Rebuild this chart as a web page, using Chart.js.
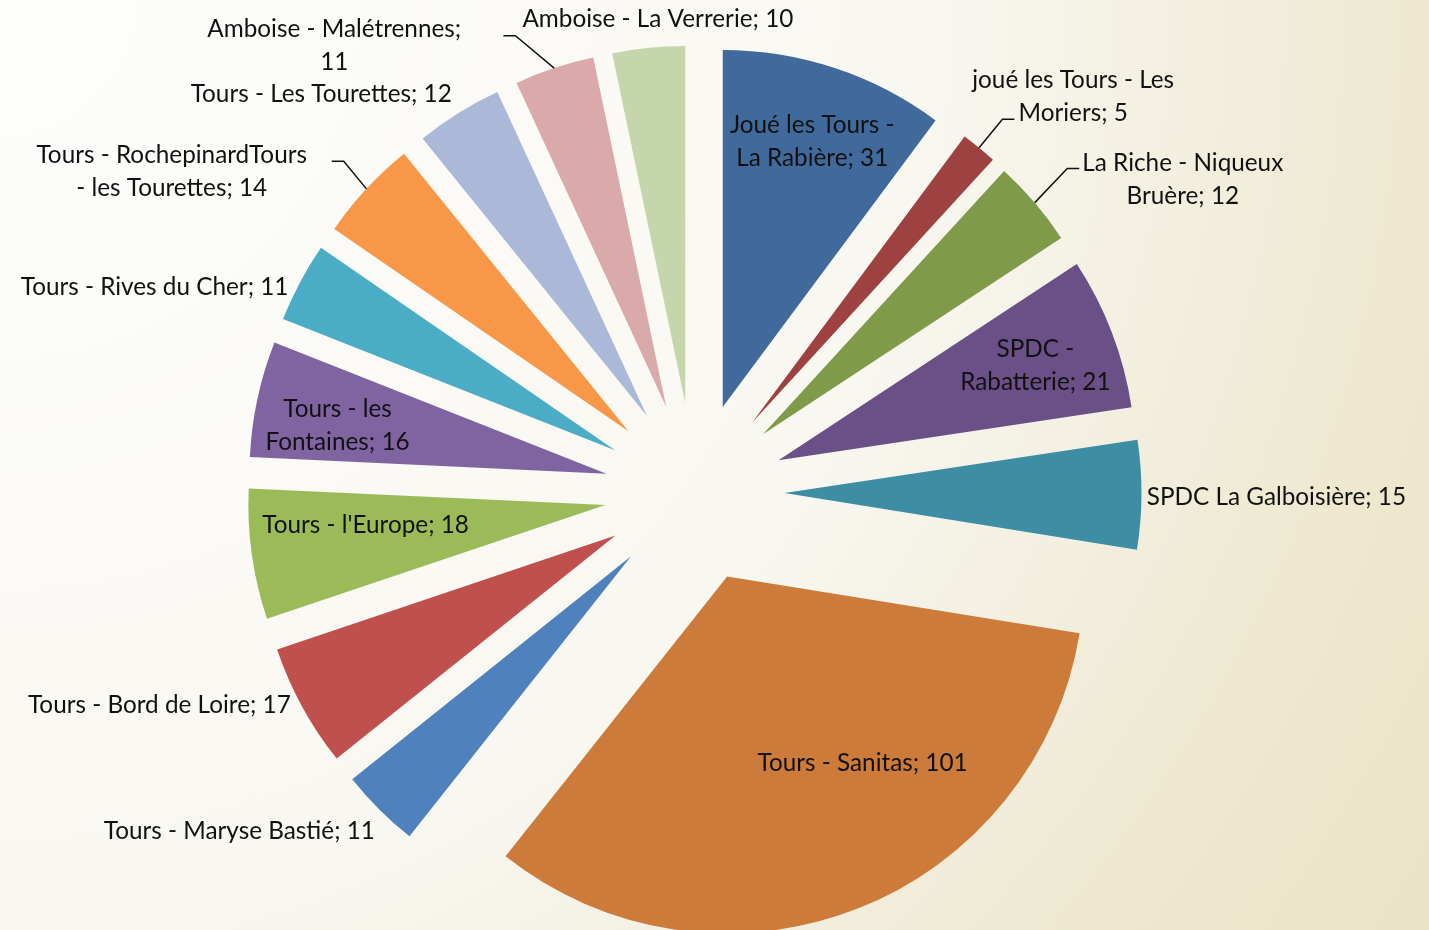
<!DOCTYPE html>
<html>
<head>
<meta charset="utf-8">
<script src="https://cdn.jsdelivr.net/npm/chart.js@4.4.1/dist/chart.umd.min.js"></script>
<style>
  html, body { margin: 0; padding: 0; }
  #wrap {
    width: 1429px; height: 930px; position: relative; overflow: hidden;
    background: radial-gradient(circle farthest-corner at 0% 0%, #fefefd 0%, #fbfaf6 30%, #f8f7f0 55%, #eee8d0 84%, #e9e3c6 100%);
  }
</style>
</head>
<body>
<div id="wrap"><canvas id="pieChart"></canvas></div>
<script>
// slices, clockwise from 12 o'clock
const categories = [
  'Joué les Tours - La Rabière',
  'joué les Tours - Les Moriers',
  'La Riche - Niqueux Bruère',
  'SPDC - Rabatterie',
  'SPDC La Galboisière',
  'Tours - Sanitas',
  'Tours - Maryse Bastié',
  'Tours - Bord de Loire',
  "Tours - l'Europe",
  'Tours - les Fontaines',
  'Tours - Rives du Cher',
  'Tours - RochepinardTours - les Tourettes',
  'Tours - Les Tourettes',
  'Amboise - Malétrennes',
  'Amboise - La Verrerie'
];
const values = [31, 5, 12, 21, 15, 101, 11, 17, 18, 16, 11, 14, 12, 11, 10];

const sliceColors = [
  '#416a9c', '#9d4240', '#7f9a49', '#6a5086', '#3d8da5',
  '#cc7b3a', '#4f81bd', '#c0504d', '#9bbb59', '#8064a2',
  '#4bacc6', '#f79747', '#aab9d7', '#daa9aa', '#c6d6ac'
];

// label layout: chars on first line (0 = one line),
// text centre as [degrees clockwise from top, distance in radii]
const firstLineChars = [16, 20, 18, 6, 0, 0, 0, 0, 0, 11, 0, 24, 0, 22, 0];
const labelSpots = [
  [18.4, 1.045], [43.5, 1.541], [57.1, 1.629], [69.1, 1.022], [90.2, 1.630],
  [147.9, 0.886], [233.6, 1.584], [248.6, 1.610], [264.8, 0.925], [281.1, 1.019],
  [291.1, 1.621], [301.8, 1.723], [317.1, 1.536], [321.3, 1.614], [355.6, 1.337]
];
const leaderEnds = [
  null, [40.6, 1.377], [49.9, 1.409], null, null,
  null, null, null, null, null,
  null, [312.4, 1.376], null, [337.3, 1.387], null
];

const EXPLODE = 90; // every slice pulled out by the same distance

const polar = (cx, cy, deg, dist) => {
  const a = (deg - 90) * Math.PI / 180;
  return { x: cx + Math.cos(a) * dist, y: cy + Math.sin(a) * dist };
};

// move each slice straight out along its middle angle (Excel style explode)
const explode = {
  id: 'explode',
  afterDatasetUpdate(chart) {
    chart.getDatasetMeta(0).data.forEach((arc) => {
      const mid = (arc.startAngle + arc.endAngle) / 2;
      arc.cx = arc.x;
      arc.cy = arc.y;
      arc.x += Math.cos(mid) * EXPLODE;
      arc.y += Math.sin(mid) * EXPLODE;
    });
  }
};

const pieLabels = {
  id: 'pieLabels',
  afterDatasetsDraw(chart) {
    const ctx = chart.ctx;
    const arcs = chart.getDatasetMeta(0).data;
    ctx.save();
    ctx.font = '100px Lato';
    const size = 100 * 210 / ctx.measureText('Tours - Sanitas; 101').width;
    ctx.font = size.toFixed(1) + 'px Lato';
    ctx.fillStyle = '#111';
    ctx.strokeStyle = '#111';
    ctx.lineWidth = 1.5;
    ctx.textAlign = 'center';
    ctx.textBaseline = 'middle';

    arcs.forEach((arc, i) => {
      const R = arc.outerRadius;
      const mid = (arc.startAngle + arc.endAngle) / 2;
      const cx = arc.cx, cy = arc.cy;

      if (leaderEnds[i]) {
        const start = { x: arc.x + Math.cos(mid) * R, y: arc.y + Math.sin(mid) * R };
        const end = polar(cx, cy, leaderEnds[i][0], leaderEnds[i][1] * R);
        const side = end.x > cx ? 1 : -1;
        ctx.beginPath();
        ctx.moveTo(start.x, start.y);
        ctx.lineTo(end.x - 12 * side, end.y);
        ctx.lineTo(end.x, end.y);
        ctx.stroke();
      }

      const text = categories[i] + '; ' + values[i];
      const n = firstLineChars[i];
      const lines = n ? [text.slice(0, n), text.slice(n).trim()] : [text];
      const p = polar(cx, cy, labelSpots[i][0], labelSpots[i][1] * R);
      lines.forEach((ln, k) => {
        ctx.fillText(ln, p.x, p.y + 3 + (k - (lines.length - 1) / 2) * 33);
      });
    });
    ctx.restore();
  }
};

new Chart(document.getElementById('pieChart'), {
  type: 'pie',
  data: {
    labels: categories,
    datasets: [{
      data: values,
      backgroundColor: sliceColors,
      borderWidth: 0,
      offset: 0,
      hoverOffset: 0
    }]
  },
  options: {
    responsive: true,
    maintainAspectRatio: false,
    animation: false,
    events: [],
    radius: 357,
    layout: { padding: { top: 55, right: 40, bottom: 0, left: 0 } },
    plugins: {
      legend: { display: false },
      tooltip: { enabled: false }
    }
  },
  plugins: [explode, pieLabels]
});
</script>
</body>
</html>
